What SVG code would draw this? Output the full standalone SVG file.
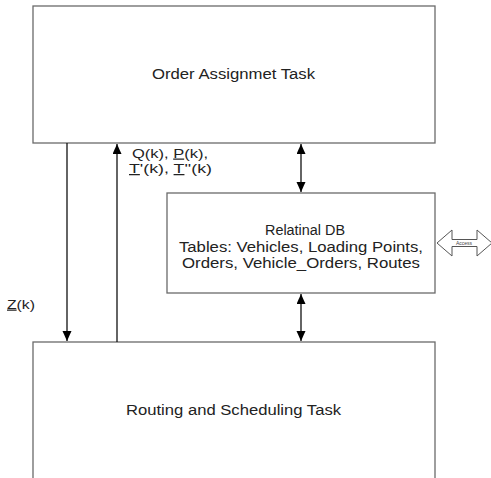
<svg xmlns="http://www.w3.org/2000/svg" width="491" height="478" viewBox="0 0 491 478">
<style>
.box{fill:#fff;stroke:#6a6a6a;stroke-width:1.3}
.t{font-family:"Liberation Sans",Arial,sans-serif;fill:#222;font-size:14px}
.lb{font-family:"Liberation Sans",Arial,sans-serif;fill:#222;font-size:12.5px}
.c{stroke:#111;stroke-width:1.3;fill:none}
</style>
<defs>
<marker id="ah" markerWidth="12" markerHeight="10" refX="10" refY="4.5" orient="auto-start-reverse" markerUnits="userSpaceOnUse"><path d="M0,0 L10,4.5 L0,9 z" fill="#000"/></marker>
</defs>
<rect width="491" height="478" fill="#fff"/>
<g id="order-assignment">
<rect class="box" x="33" y="6" width="402" height="137"/>
<text class="t" x="233.5" y="78.5" text-anchor="middle" textLength="163" lengthAdjust="spacingAndGlyphs">Order Assignmet Task</text>
</g>
<g id="relational-db">
<rect class="box" x="167" y="193" width="268" height="100"/>
<text class="t" x="305" y="235" text-anchor="middle" textLength="80" lengthAdjust="spacingAndGlyphs">Relatinal DB</text>
<text class="t" x="301" y="251.5" text-anchor="middle" textLength="244" lengthAdjust="spacingAndGlyphs">Tables: Vehicles, Loading Points,</text>
<text class="t" x="301" y="268" text-anchor="middle" textLength="238" lengthAdjust="spacingAndGlyphs">Orders, Vehicle_Orders, Routes</text>
</g>
<g id="routing-scheduling">
<rect class="box" x="33" y="342" width="402" height="145"/>
<text class="t" x="233.5" y="415" text-anchor="middle" textLength="215" lengthAdjust="spacingAndGlyphs">Routing and Scheduling Task</text>
</g>
<g id="access">
<path d="M437,243 L452,230 L452,239.5 L477,239.5 L477,230 L492,243 L477,256 L477,246.5 L452,246.5 L452,256 Z" fill="#fff" stroke="#555" stroke-width="1"/>
<text x="464" y="245" text-anchor="middle" font-family="Liberation Sans,Arial,sans-serif" font-size="5" fill="#444">Access</text>
</g>
<g id="connectors">
<line class="c" x1="67" y1="143" x2="67" y2="341" marker-end="url(#ah)"/>
<line class="c" x1="117" y1="342" x2="117" y2="144" marker-end="url(#ah)"/>
<line class="c" x1="301" y1="144" x2="301" y2="192" marker-start="url(#ah)" marker-end="url(#ah)"/>
<line class="c" x1="301" y1="294" x2="301" y2="341" marker-start="url(#ah)" marker-end="url(#ah)"/>
<text class="lb" x="132" y="157.5" textLength="76" lengthAdjust="spacingAndGlyphs">Q(k), <tspan text-decoration="underline">P</tspan>(k),</text>
<text class="lb" x="129" y="173" textLength="83" lengthAdjust="spacingAndGlyphs"><tspan text-decoration="underline">T</tspan>'(k), <tspan text-decoration="underline">T</tspan>''(k)</text>
<text class="lb" x="7" y="308.5" textLength="28" lengthAdjust="spacingAndGlyphs"><tspan text-decoration="underline">Z</tspan>(k)</text>
</g>
</svg>
